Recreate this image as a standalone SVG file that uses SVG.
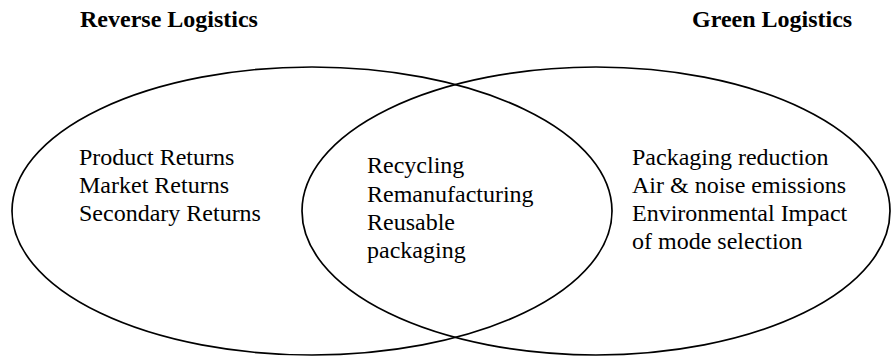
<svg xmlns="http://www.w3.org/2000/svg" width="891" height="358" viewBox="0 0 891 358">
<style>
.e{fill:none;stroke:#000;stroke-width:1.7}
.t{font-family:"Liberation Serif","Times New Roman",serif;font-size:24px;fill:#000}
.h{font-family:"Liberation Serif","Times New Roman",serif;font-size:24px;font-weight:bold;fill:#000}
</style>
<rect width="891" height="358" fill="#fff"/>
<g id="reverse">
<ellipse class="e" cx="312" cy="211" rx="300" ry="144"/>
<text class="h" x="80" y="27">Reverse Logistics</text>
<text class="t" x="79" y="165">Product Returns</text>
<text class="t" x="79" y="193">Market Returns</text>
<text class="t" x="79" y="221">Secondary Returns</text>
</g>
<g id="green">
<ellipse class="e" cx="596" cy="211" rx="294" ry="144"/>
<text class="h" x="692" y="27">Green Logistics</text>
<text class="t" x="632" y="165">Packaging reduction</text>
<text class="t" x="632" y="193">Air &amp; noise emissions</text>
<text class="t" x="632" y="221">Environmental Impact</text>
<text class="t" x="632" y="249">of mode selection</text>
</g>
<g id="overlap">
<text class="t" x="367" y="173">Recycling</text>
<text class="t" x="367" y="202">Remanufacturing</text>
<text class="t" x="367" y="230">Reusable</text>
<text class="t" x="367" y="258">packaging</text>
</g>
<g id="connectors"/>
</svg>
